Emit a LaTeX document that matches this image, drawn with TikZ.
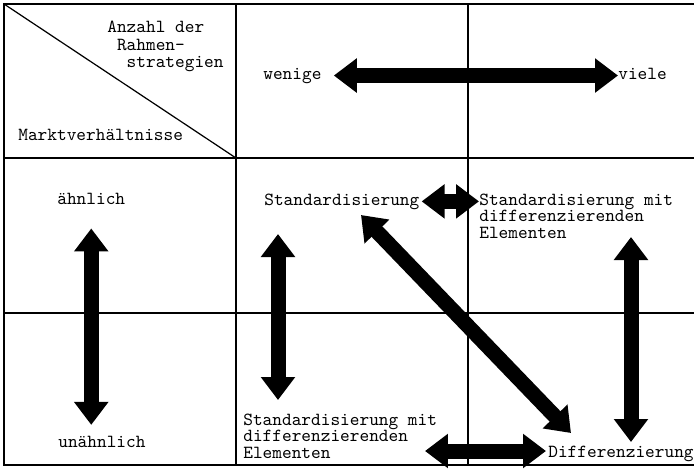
\documentclass[tikz,border=0pt]{standalone}
\usepackage{tikz}
\usetikzlibrary{arrows.meta}

\begin{document}
\begin{tikzpicture}[
    x=0.02cm,
    y=-0.02cm,
    grid/.style={line width=0.7pt},
    lbl/.style={inner sep=0pt, align=left, font=\ttfamily\fontsize{10.5pt}{9.2pt}\selectfont},
    fat/.style={line width=0.3cm, {Triangle[length=0.46cm,width=0.66cm]}-{Triangle[length=0.46cm,width=0.66cm]}}
]
  \clip (0,0) rectangle (694,468);
  \fill[white] (0,0) rectangle (694,468);
  % table
  \draw[grid] (4,4) rectangle (720,465);
  \draw[grid] (236,4) to (236,465);
  \draw[grid] (468,4) to (468,465);
  \draw[grid] (4,158) to (720,158);
  \draw[grid] (4,313) to (720,313);
  \draw[grid] (4,4) to (236,158);
  % labels
  \node[lbl, anchor=north west, font=\ttfamily\fontsize{10.5pt}{9.9pt}\selectfont] (anzahl) at (107,21) {Anzahl der\\\hphantom{A}Rahmen-\\\hphantom{AA}strategien};
  \node[lbl, anchor=base west] (markt) at (18,140) {Marktverh\"altnisse};
  \node[lbl, anchor=base west] (wenige) at (263,79) {wenige};
  \node[lbl, anchor=base west] (viele) at (618,79) {viele};
  \node[lbl, anchor=base west] (aehnlich) at (57,204) {\"ahnlich};
  \node[lbl, anchor=base west] (unaehnlich) at (58,447) {un\"ahnlich};
  \node[lbl, anchor=base west] (std) at (264,205) {Standardisierung};
  \node[lbl, anchor=north west] (stdmit) at (479,194) {Standardisierung mit\\differenzierenden\\Elementen};
  \node[lbl, anchor=north west] (stdmitu) at (243,414) {Standardisierung mit\\differenzierenden\\Elementen};
  \node[lbl, anchor=base west] (diff) at (548,457) {Differenzierung};
  % free arrow ends
  \coordinate (dg1) at (361,215);
  \coordinate (dg2) at (571,433);
  \coordinate (m1) at (278,234);
  \coordinate (m2) at (278,400);
  \coordinate (r1) at (631,237);
  \coordinate (r2) at (631,442);
  \coordinate (b1) at (425,451);
  % arrows
  \draw[fat, shorten <=0.24cm] (wenige.east) to (wenige.east -| viele.west);
  \draw[fat, shorten <=0.48cm, shorten >=0.21cm] (aehnlich.south) to (aehnlich.south |- unaehnlich.north);
  \draw[fat, shorten <=0.04cm] (std.east) to (std.east -| stdmit.west);
  \draw[fat] (dg1) to (dg2);
  \draw[fat] (m1) to (m2);
  \draw[fat] (r1) to (r2);
  \draw[fat, shorten >=0.04cm] (b1) to (b1 -| diff.west);
\end{tikzpicture}
\end{document}
